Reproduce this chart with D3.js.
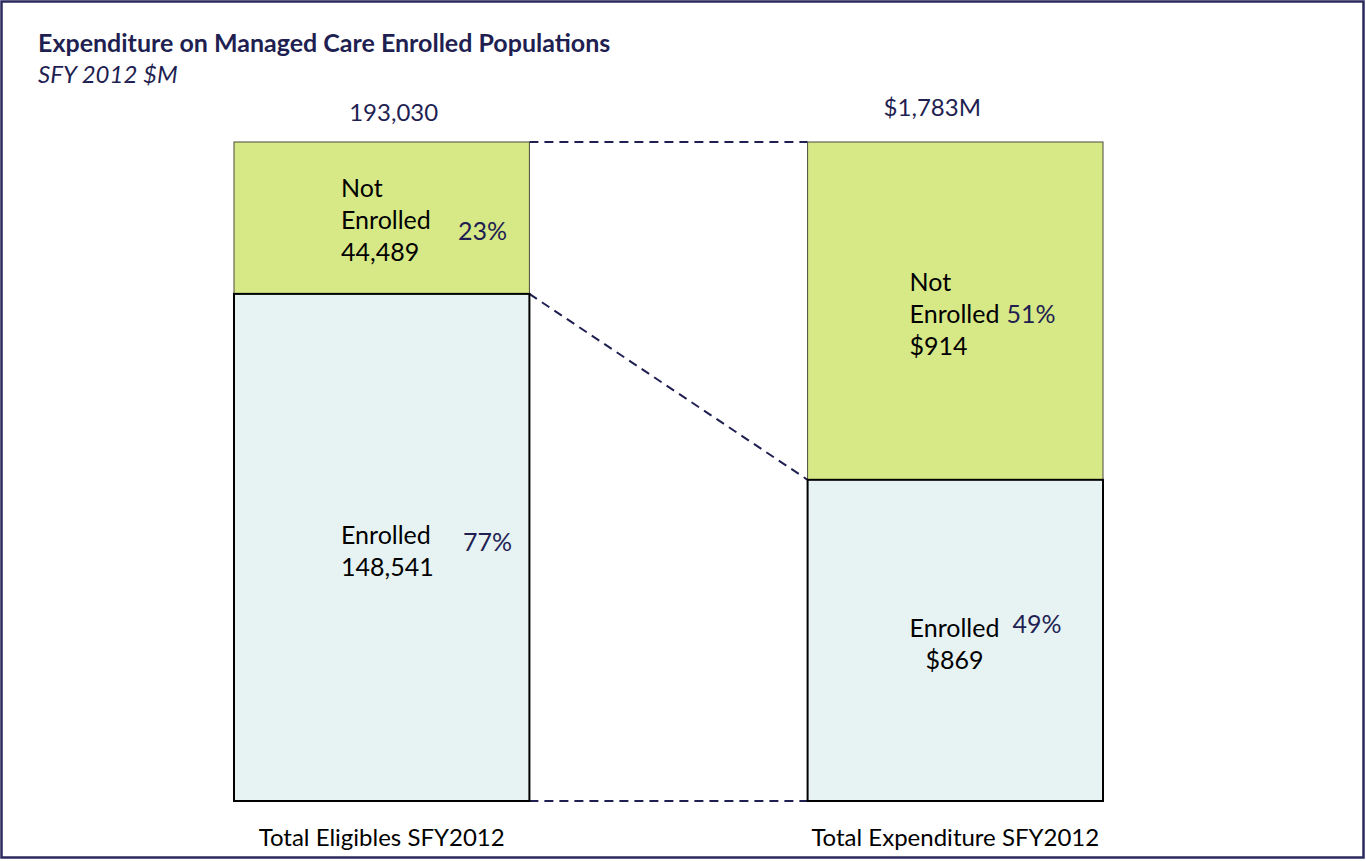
<!DOCTYPE html>
<html>
<head>
<meta charset="utf-8">
<script src="https://cdn.jsdelivr.net/npm/d3@7"></script>
<style>
  body { margin: 0; background: #fff; }
  svg text { font-family: Lato, "Open Sans", sans-serif; }
</style>
</head>
<body>
<div class="canvas"></div>
<script>
const landScape = { width: 1366, height: 861 };

// data
const categories = ["Total Eligibles SFY2012", "Total Expenditure SFY2012"];
const totals = ["193,030", "$1,783M"];
const notEnrolled = [44489, 914];
const enrolled = [148541, 869];
const notEnrolledLabels = ["44,489", "$914"];
const enrolledLabels = ["148,541", "$869"];
const notEnrolledPct = ["23%", "51%"];
const enrolledPct = ["77%", "49%"];

const navy = "#1f1f52";
const green = "#d7e886";
const pale = "#e7f3f3";

const svg = d3
  .select(".canvas")
  .append("svg")
  .attr("width", landScape.width)
  .attr("height", landScape.height);

// frame
svg.append("rect")
  .attr("x", 1.5).attr("y", 1.5)
  .attr("width", 1362).attr("height", 856)
  .attr("fill", "none")
  .attr("stroke", "#2a2a5e")
  .attr("stroke-width", 2.5);

// title
svg.append("text")
  .attr("x", 38).attr("y", 52)
  .attr("font-size", 25)
  .attr("font-weight", "bold")
  .attr("fill", navy)
  .text("Expenditure on Managed Care Enrolled Populations");
svg.append("text")
  .attr("x", 38).attr("y", 83)
  .attr("font-size", 24)
  .attr("font-style", "italic")
  .attr("fill", navy)
  .text("SFY 2012 $M");

//scales
const xScale = d3.scaleBand()
  .domain(categories)
  .range([234, 1103])
  .paddingInner(0.485)
  .paddingOuter(0);
const yScale = d3.scaleLinear().domain([0, 1]).range([801, 142]);

const data = categories.map((c, i) => {
  const total = notEnrolled[i] + enrolled[i];
  return {
    name: c,
    total: totals[i],
    share: enrolled[i] / total,
    ne: notEnrolledLabels[i],
    en: enrolledLabels[i],
    nePct: notEnrolledPct[i],
    enPct: enrolledPct[i]
  };
});

const bw = xScale.bandwidth();

// connector lines
const lines = [
  [1, 1],
  [data[0].share, data[1].share],
  [0, 0]
];
svg.selectAll("line.conn")
  .data(lines)
  .enter()
  .append("line")
  .attr("class", "conn")
  .attr("x1", xScale(categories[0]) + bw)
  .attr("y1", d => yScale(d[0]))
  .attr("x2", xScale(categories[1]))
  .attr("y2", d => yScale(d[1]))
  .attr("stroke", navy)
  .attr("stroke-width", 2)
  .attr("stroke-dasharray", "9,6");

const groups = svg.selectAll("g.bar")
  .data(data)
  .enter()
  .append("g")
  .attr("class", "bar")
  .attr("transform", d => `translate(${xScale(d.name)},0)`);

// not enrolled segment
groups.append("rect")
  .attr("x", 0)
  .attr("y", yScale(1))
  .attr("width", bw)
  .attr("height", d => yScale(d.share) - yScale(1))
  .attr("fill", green)
  .attr("stroke", "#4a4a3a")
  .attr("stroke-width", 1);

// enrolled segment
groups.append("rect")
  .attr("x", 0)
  .attr("y", d => yScale(d.share))
  .attr("width", bw)
  .attr("height", d => yScale(0) - yScale(d.share))
  .attr("fill", pale)
  .attr("stroke", "#000")
  .attr("stroke-width", 2);

// totals above
groups.append("text")
  .attr("x", (d, i) => bw / 2 + (i === 0 ? 12 : -23))
  .attr("y", (d, i) => i === 0 ? 121 : 116)
  .attr("text-anchor", "middle")
  .attr("font-size", 24)
  .attr("fill", navy)
  .text(d => d.total);

// category labels
groups.append("text")
  .attr("x", bw / 2)
  .attr("y", 846)
  .attr("text-anchor", "middle")
  .attr("font-size", 24)
  .attr("fill", "#000")
  .text(d => d.name);

// segment labels
const lbl = 25;
groups.each(function(d, i) {
  const g = d3.select(this);
  const neMid = (yScale(1) + yScale(d.share)) / 2;
  const enMid = (yScale(d.share) + yScale(0)) / 2;
  const lx = i === 0 ? 107 : 102;
  const ne = g.append("text")
    .attr("x", lx)
    .attr("y", i === 0 ? neMid - 21 : neMid - 20)
    .attr("font-size", lbl)
    .attr("fill", "#000");
  ne.append("tspan").attr("x", lx).attr("dy", 0).text("Not");
  ne.append("tspan").attr("x", lx).attr("dy", 32).text("Enrolled");
  ne.append("tspan").attr("x", lx).attr("dy", 32).text(d.ne);
  g.append("text")
    .attr("x", i === 0 ? 224 : 199)
    .attr("y", i === 0 ? neMid + 22 : neMid + 12)
    .attr("font-size", lbl)
    .attr("fill", navy)
    .text(d.nePct);

  const en = g.append("text")
    .attr("x", lx)
    .attr("y", enMid - 3)
    .attr("font-size", lbl)
    .attr("fill", "#000");
  en.append("tspan").attr("x", lx).attr("dy", 0).text("Enrolled");
  en.append("tspan").attr("x", i === 0 ? lx : lx + 16).attr("dy", 32).text(d.en);
  g.append("text")
    .attr("x", i === 0 ? 229 : 205)
    .attr("y", i === 0 ? enMid + 4 : enMid - 7)
    .attr("font-size", lbl)
    .attr("fill", navy)
    .text(d.enPct);
});
</script>
</body>
</html>
